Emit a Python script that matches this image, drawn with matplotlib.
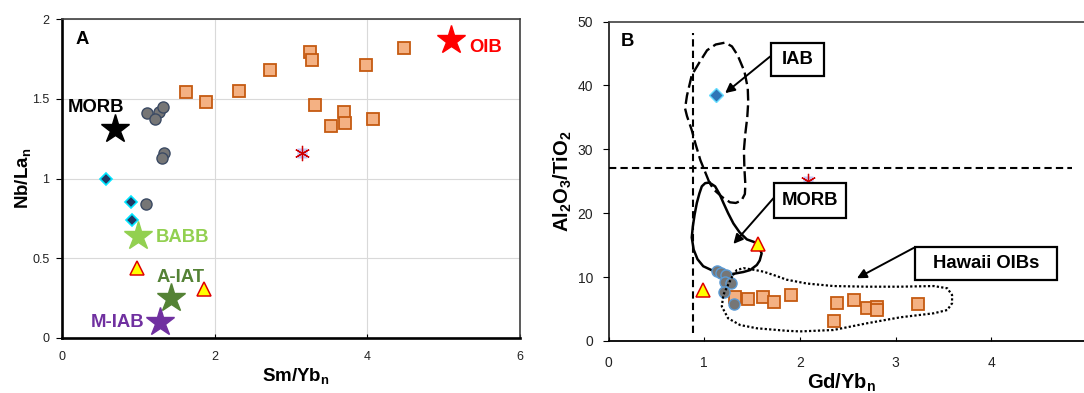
import matplotlib
matplotlib.use('Agg')
import matplotlib.pyplot as plt
from matplotlib.patches import Rectangle

plt.rcParams['font.family'] = ['Liberation Sans', 'DejaVu Sans']
plt.rcParams['mathtext.fontset'] = 'custom'
plt.rcParams['mathtext.rm'] = 'Liberation Sans'
plt.rcParams['mathtext.bf'] = 'Liberation Sans:bold'
plt.rcParams['mathtext.it'] = 'Liberation Sans:italic'

# ---------------- Panel A data ----------------
a_sq_x = [1.62, 1.88, 2.32, 2.72, 3.25, 3.27, 3.31, 3.53, 3.69, 3.71, 3.98, 4.08, 4.48]
a_sq_y = [1.54, 1.48, 1.55, 1.68, 1.79, 1.74, 1.46, 1.33, 1.42, 1.35, 1.71, 1.37, 1.82]
a_ci_x = [1.12, 1.27, 1.32, 1.22, 1.34, 1.31, 1.10]
a_ci_y = [1.41, 1.42, 1.45, 1.37, 1.16, 1.13, 0.84]
a_di_x = [0.57, 0.91, 0.92]
a_di_y = [1.00, 0.85, 0.74]
a_tr_x = [0.98, 1.86]
a_tr_y = [0.437, 0.307]
a_as_x = [3.15]
a_as_y = [1.16]
ref_names = ['MORB', 'OIB', 'BABB', 'A-IAT', 'M-IAB']
ref_x = [0.70, 5.09, 0.99, 1.43, 1.28]
ref_y = [1.31, 1.87, 0.64, 0.25, 0.10]
ref_colors = ['#000000', '#ff0000', '#92d050', '#548235', '#7030a0']
ref_offsets = [(-14.2, 15.8), (25.2, -5.3), (32, -0.9), (6.5, 15.1), (-30.7, -0.3)]

# ---------------- Panel B data ----------------
b_sq_x = [1.32, 1.46, 1.61, 1.73, 1.91, 2.39, 2.57, 2.70, 2.81, 2.81, 2.36, 3.23]
b_sq_y = [6.9, 6.6, 6.9, 6.1, 7.2, 6.0, 6.4, 5.1, 5.3, 4.9, 3.2, 5.8]
b_ci_x = [1.13, 1.18, 1.23, 1.22, 1.28, 1.21, 1.31]
b_ci_y = [10.9, 10.6, 10.3, 9.3, 9.0, 7.7, 5.8]
b_tr_x = [0.99, 1.56]
b_tr_y = [8.0, 15.2]
b_di_x = [1.12]
b_di_y = [38.5]
b_as_x = [2.08]
b_as_y = [25.0]

# field outlines (Gd/Yb, Al2O3/TiO2)
morb_field = [(1.054, 24.8), (1.114, 24.2), (1.16, 23.0), (1.201, 21.6), (1.25, 20.0), (1.305, 18.4),
              (1.37, 17.0), (1.446, 15.9), (1.52, 15.5), (1.567, 15.0), (1.60, 13.7), (1.58, 12.6),
              (1.55, 11.9), (1.48, 11.1), (1.41, 10.8), (1.30, 10.5), (1.20, 10.5), (1.09, 11.0),
              (0.99, 11.7), (0.93, 12.8), (0.89, 14.3), (0.870, 16.2), (0.881, 17.9), (0.90, 19.8),
              (0.923, 21.6), (0.95, 23.1), (0.975, 24.2), (1.01, 24.7), (1.054, 24.8)]
iab_field = [(1.054, 24.8), (1.03, 25.7), (0.96, 28.3), (0.91, 30.8), (0.87, 33.0), (0.82, 35.2),
             (0.80, 36.4), (0.82, 38.4), (0.87, 41.6), (0.95, 43.6), (1.03, 45.5), (1.12, 46.4),
             (1.22, 46.7), (1.29, 46.1), (1.35, 44.7), (1.42, 42.2), (1.455, 39.6), (1.46, 37.4),
             (1.45, 35.0), (1.43, 32.5), (1.415, 29.9), (1.42, 27.0), (1.43, 24.5), (1.425, 23.0),
             (1.39, 22.0), (1.33, 21.6), (1.27, 21.7), (1.19, 22.5), (1.10, 23.7), (1.054, 24.8)]
hawaii_field = [(1.30, 10.3), (1.34, 11.1), (1.41, 11.4), (1.50, 11.2), (1.62, 10.85), (1.75, 10.2),
                (1.86, 9.6), (2.07, 9.0), (2.35, 8.6), (2.70, 8.5), (3.05, 8.5), (3.40, 8.6),
                (3.54, 8.25), (3.59, 7.2), (3.59, 5.9), (3.54, 4.85), (3.40, 4.34), (3.05, 3.71),
                (2.70, 2.77), (2.35, 1.72), (2.00, 1.5), (1.86, 1.6), (1.55, 1.99), (1.375, 2.5),
                (1.25, 3.55), (1.184, 5.4), (1.20, 7.2), (1.24, 8.5), (1.30, 10.3)]

SQ = dict(marker='s', ms=8.5, mfc='#f4b183', mec='#c55a11', mew=1.3, ls='none')
TRI = dict(marker='^', ms=10, mfc='#ffff00', mec='#e00000', mew=1.1, ls='none')

fig = plt.figure(figsize=(10.84, 3.93), dpi=100)
axA = fig.add_axes([62 / 1084, 1 - 338 / 393, 458 / 1084, 319 / 393])
axB = fig.add_axes([608.5 / 1084, 1 - 341 / 393, 478.5 / 1084, 319.5 / 393])

tick_col = '#222222'

# ================= Panel A =================
axA.set_axisbelow(True)
axA.grid(True, color='#d9d9d9', lw=0.8)
axA.plot(a_sq_x, a_sq_y, zorder=3, **SQ)
axA.plot(a_ci_x, a_ci_y, 'o', ms=8, mfc='#767676', mec='#3b4a63', mew=1.0, zorder=3)
axA.plot(a_di_x, a_di_y, 'D', ms=6.3, mfc='#203864', mec='#00e5ff', mew=1.2, zorder=3)
axA.plot(a_tr_x, a_tr_y, zorder=3, **TRI)
axA.plot(a_as_x, a_as_y, 's', ms=7.5, mfc='#c4c4f4', mec='none', zorder=3)
axA.plot(a_as_x, a_as_y, marker=(6, 2, 0), ms=11, mec='#d00000', mew=0.9, ls='none', zorder=4)
for name, x, y, c, off in zip(ref_names, ref_x, ref_y, ref_colors, ref_offsets):
    axA.plot([x], [y], '*', ms=21, color=c, mec=c, zorder=5)
    axA.annotate(name, (x, y), xytext=off, textcoords='offset points', ha='center', va='center',
                 fontsize=13.3, fontweight='bold', color=c, zorder=6)

axA.set_xlim(0, 6)
axA.set_ylim(0, 2)
axA.set_xticks([0, 2, 4, 6])
axA.set_xticklabels(['0', '2', '4', '6'])
axA.set_yticks([0, 0.5, 1, 1.5, 2])
axA.set_yticklabels(['0', '0.5', '1', '1.5', '2'])
axA.tick_params(axis='x', direction='in', length=3, pad=9.5, labelsize=9, labelcolor=tick_col)
axA.tick_params(axis='y', direction='out', length=4, pad=5, labelsize=9, labelcolor=tick_col)
for s in ['left', 'bottom']:
    axA.spines[s].set_linewidth(1.9)
    axA.spines[s].set_color('black')
for s in ['top', 'right']:
    axA.spines[s].set_linewidth(1.2)
    axA.spines[s].set_color('#404040')
axA.set_xlabel(r'$\mathbf{Sm/Yb_n}$', fontsize=13.5)
axA.xaxis.set_label_coords(0.51, -0.12)
axA.xaxis.label.set_va('center')
axA.set_ylabel(r'$\mathbf{Nb/La_n}$', fontsize=13.5)
axA.yaxis.set_label_coords(-0.086, 0.5)
axA.yaxis.label.set_va('center')
axA.text(0.045, 0.936, 'A', transform=axA.transAxes, fontsize=13.3, fontweight='bold',
         ha='center', va='center')

# ================= Panel B =================
axB.plot([0.88, 0.88], [1.2, 48.2], color='black', lw=1.5, ls=(0, (3.5, 2)), zorder=2)
axB.plot([0, 4.84], [27, 27], color='black', lw=1.5, ls=(0, (3.5, 2)), zorder=2)
axB.plot(*zip(*iab_field), color='black', lw=1.7, ls=(0, (5, 2)), zorder=2)
axB.plot(*zip(*morb_field), color='black', lw=1.8, ls='-', zorder=2)

axB.plot(b_sq_x, b_sq_y, zorder=3, **SQ)
axB.plot(b_ci_x, b_ci_y, 'o', ms=8, mfc='#767676', mec='#5b9bd5', mew=1.0, zorder=3)
axB.plot(b_tr_x, b_tr_y, zorder=3, **TRI)
axB.plot(b_di_x, b_di_y, 'D', ms=7.5, mfc='#2e75b6', mec='#66ddff', mew=1.0, zorder=3)
axB.plot(b_as_x, b_as_y, 's', ms=7.5, mfc='#c4c4f4', mec='none', zorder=3)
axB.plot(b_as_x, b_as_y, marker=(6, 2, 0), ms=11, mec='#d00000', mew=0.9, ls='none', zorder=4)
axB.plot(*zip(*hawaii_field), color='black', lw=1.6, ls=(0, (1, 1)), zorder=4)

boxes = [('IAB', 1.700, 41.50, 2.247, 46.71, (1.689, 44.52), (1.219, 38.79)),
         ('MORB', 1.734, 19.31, 2.481, 24.79, (1.724, 22.35), (1.305, 15.19)),
         ('Hawaii OIBs', 3.199, 9.55, 4.688, 14.77, (3.188, 14.56), (2.596, 9.82))]
for label, x0, y0, x1, y1, tail, tip in boxes:
    axB.add_patch(Rectangle((x0, y0), x1 - x0, y1 - y0, fc='white', ec='black', lw=1.6, zorder=6))
    axB.text((x0 + x1) / 2, (y0 + y1) / 2, label, ha='center', va='center', fontsize=13.3,
             fontweight='bold', zorder=7)
    axB.annotate('', xy=tip, xytext=tail,
                 arrowprops=dict(arrowstyle='-|>', color='black', lw=1.4, mutation_scale=14,
                                 shrinkA=0, shrinkB=0), zorder=6)

axB.set_xlim(0, 5)
axB.set_ylim(0, 50)
axB.set_xticks([0, 1, 2, 3, 4, 5])
axB.set_yticks([0, 10, 20, 30, 40, 50])
axB.tick_params(axis='x', direction='in', length=3, pad=10.5, labelsize=10, labelcolor=tick_col)
axB.tick_params(axis='y', direction='out', length=4, pad=7, labelsize=10, labelcolor=tick_col)
axB.spines['left'].set_linewidth(1.1)
axB.spines['bottom'].set_linewidth(1.3)
axB.spines['top'].set_linewidth(1.2)
axB.spines['top'].set_color('#404040')
axB.spines['right'].set_linewidth(1.2)
axB.set_xlabel(r'$\mathbf{Gd/Yb_n}$', fontsize=14.5)
axB.xaxis.set_label_coords(0.488, -0.13)
axB.xaxis.label.set_va('center')
axB.set_ylabel(r'$\mathbf{Al_2O_3/TiO_2}$', fontsize=14.5)
axB.yaxis.set_label_coords(-0.095, 0.5)
axB.yaxis.label.set_va('center')
axB.text(0.039, 0.937, 'B', transform=axB.transAxes, fontsize=13.3, fontweight='bold',
         ha='center', va='center')

fig.savefig('out.png', dpi=100)
